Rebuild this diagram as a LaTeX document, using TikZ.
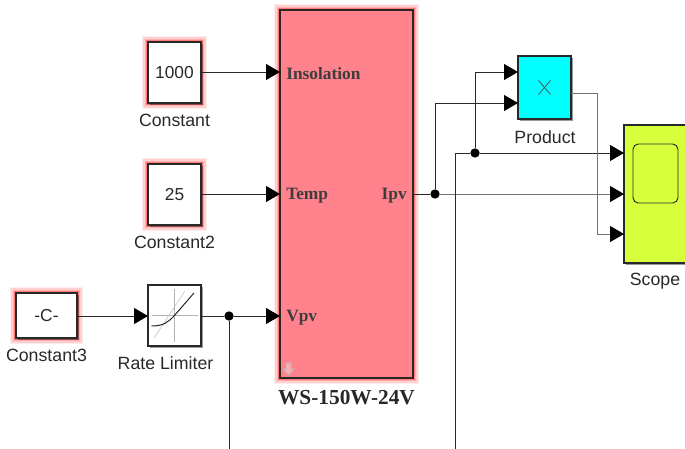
\documentclass[tikz,border=0pt]{standalone}
\usepackage{fontspec}
\setmainfont{Liberation Sans}
\newfontfamily\serifb{Liberation Serif}[Scale=1]
\usetikzlibrary{arrows.meta,shadows,calc,fit}
\definecolor{pvred}{RGB}{255,130,140}
\definecolor{scopeyel}{RGB}{216,255,60}
\definecolor{prodcy}{RGB}{0,255,255}
\definecolor{ink}{RGB}{40,40,40}
\tikzset{
  x=0.75pt,y=-0.75pt,
  blk/.style={draw=ink,line width=0.9pt,inner sep=0pt,outer sep=0pt,font=\fontsize{13}{15}\selectfont,text=ink},
  shad/.style={drop shadow={shadow xshift=1.2pt,shadow yshift=-1.2pt,opacity=.4,fill=black}},
  glow/.style={preaction={draw=red,line width=9pt,opacity=.07,rounded corners=3pt},
               preaction={draw=red,line width=7pt,opacity=.12,rounded corners=2pt},
               preaction={draw=red,line width=5pt,opacity=.17,rounded corners=1.5pt},
               preaction={draw=red,line width=3pt,opacity=.3}},
  lab/.style={font=\fontsize{13.3}{15}\selectfont,text=ink,inner sep=0pt},
  plab/.style={font=\serifb\bfseries\fontsize{13}{15}\selectfont,text=ink!90,inner sep=0pt},
  wire/.style={draw=ink,line width=0.65pt,-{Triangle[length=10.5pt,width=12pt,color=black]}},
  line/.style={draw=ink,line width=0.65pt},
  gwire/.style={wire,draw=ink!65},
  gline/.style={line,draw=ink!65},
  dot/.style={circle,fill=black,inner sep=0pt,minimum size=7pt,outer sep=0pt},
}
\begin{document}
\begin{tikzpicture}
\useasboundingbox (0,0) rectangle (685,449);
% blocks
\node[blk,glow,shad,fill=white,minimum width=39.75pt,minimum height=45.75pt] (c1) at (174.5,72.5) {1000};
\node[blk,glow,shad,fill=white,minimum width=39.75pt,minimum height=45.75pt] (c2) at (174.5,194.5) {25};
\node[blk,glow,shad,fill=white,minimum width=45.75pt,minimum height=33.75pt] (c3) at (46.5,315.5) {-C-};
\node[blk,shad,fill=white,minimum width=39.75pt,minimum height=45.75pt] (rl) at (174.5,315.5) {};
\node[blk,glow,fill=pvred,minimum width=99.75pt,minimum height=276pt] (pv) at (346.5,194) {};
\node[blk,shad,fill=prodcy,minimum width=39.75pt,minimum height=47.25pt] (pr) at (544.5,87.5) {};
\path[clip] (0,0) rectangle (685,449);
\node[blk,shad,fill=scopeyel,minimum width=60pt,minimum height=103.5pt] (sc) at (664,194) {};
\node[draw=ink,line width=0.7pt,fill=scopeyel,rounded corners=4pt,minimum width=33.75pt,minimum height=44.25pt,inner sep=0pt] (scr) at (655.5,173.5) {};
% block decorations
\draw[ink!80,line width=0.6pt] ($(pr.center)+(-6,-7)$) -- ($(pr.center)+(6,7)$);
\draw[ink!80,line width=0.6pt] ($(pr.center)+(-6,7)$) -- ($(pr.center)+(6,-7)$);
% rate limiter icon
\draw[black!30,line width=0.5pt] (151.5,315) -- (198,315);
\draw[black!30,line width=0.5pt] (174.5,289) -- (174.5,342);
\draw[black!22,line width=0.5pt] (154,338) -- (185,291);
\draw[ink,line width=0.75pt] (151.5,326) .. controls (164,326) and (168,322) .. (174,316) -- (194,293);
% down-arrow mark on the PV block
\draw[black!28,fill=white,fill opacity=.35,line width=0.6pt] (286,363) -- (291,363) -- (291,369) -- (294,369) -- (288.5,375) -- (283,369) -- (286,369) -- cycle;
% port labels
\node[plab,anchor=west] (tins) at (286,73.5) {Insolation};
\node[plab,anchor=west] (ttmp) at (286,195.5) {Temp};
\node[plab,anchor=west] (tvpv) at (286,317.5) {Vpv};
\node[plab,anchor=east] (tipv) at (407,195.5) {Ipv};
% block labels
\node[lab] (lc1) at (174.5,120.5) {Constant};
\node[lab] (lc2) at (174.5,242) {Constant2};
\node[lab] (lc3) at (46.5,355) {Constant3};
\node[lab] (lrl) at (165.5,363.5) {Rate Limiter};
\node[lab] (lpr) at (545,137) {Product};
\node[lab] (lsc) at (655,281.5) {Scope};
\node[font=\serifb\bfseries\fontsize{16}{18}\selectfont,text=ink,inner sep=0pt] (lpv) at (346.5,398) {WS-150W-24V};
% named points
\node[dot] (j1) at (229,316) {};
\node[dot] (j2) at (435,194) {};
\node[dot] (j3) at (475,153) {};
\coordinate (d1) at (229,449);
\coordinate (d2) at (455,449);
\coordinate (p1) at (pr.west|-0,72);
\coordinate (p2) at (pr.west|-0,103);
\coordinate (s1) at (sc.west|-0,153);
\coordinate (s2) at (sc.west|-0,194);
\coordinate (s3) at (sc.west|-0,234);
\coordinate (pvi1) at (pv.west|-0,72);
\coordinate (pvi2) at (pv.west|-0,194);
\coordinate (pvi3) at (pv.west|-0,316);
\coordinate (rli) at (rl.west|-0,316);
\coordinate (pro) at (pr.east|-0,93);
% connectors
\draw[wire] (c1.east|-pvi1) -- (pvi1);
\draw[wire] (c2.east|-pvi2) -- (pvi2);
\draw[wire] (c3.east|-rli) -- (rli);
\draw[line] (rl.east|-j1) -- (j1);
\draw[wire] (j1) -- (pvi3);
\draw[line] (j1) -- (d1);
\draw[line] (pv.east|-j2) -- (j2);
\draw[gwire] (j2) -- (s2);
\draw[wire] (j2) |- (p2);
\draw[line] (d2) |- (j3);
\draw[wire] (j3) -- (s1);
\draw[wire] (j3) |- (p1);
\draw[gwire] (pro) -- (597,93) |- (s3);
\end{tikzpicture}
\end{document}
